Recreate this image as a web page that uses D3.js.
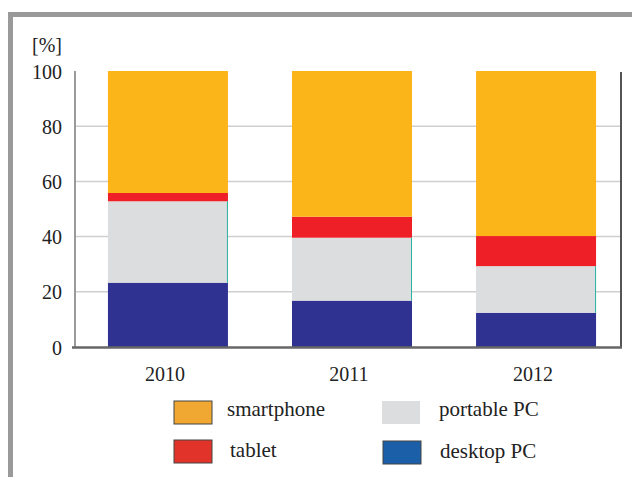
<!DOCTYPE html>
<meta charset="utf-8">
<title>Device share</title>
<script src="https://d3js.org/d3.v7.min.js"></script>
<body style="margin:0; background:#fff;">
<div id="chart"></div>
</body>
<script>
years = ["2010", "2011", "2012"]
desktop = [23.3, 16.8, 12.4]
portable = [29.5, 22.8, 16.9]
tablet = [3.0, 7.6, 10.9]
smartphone = [44.2, 52.8, 59.8]
keys = ["desktop", "portable", "tablet", "smartphone"]
labels = {smartphone: "smartphone", portable: "portable PC", tablet: "tablet", desktop: "desktop PC"}
barColor = {smartphone: "#fbb519", tablet: "#ee1f26", portable: "#dcddde", desktop: "#303292"}
swatchColor = {smartphone: "#f0a832", tablet: "#e2332a", portable: "#dcddde", desktop: "#1c5fa9"}
yTicks = [0, 20, 40, 60, 80, 100]

width = 632
height = 477
font = "'Liberation Serif', 'Times New Roman', serif"

table = years.map((y, i) => ({year: y, desktop: desktop[i], portable: portable[i], tablet: tablet[i], smartphone: smartphone[i]}))
series = d3.stack().keys(keys)(table)

x = d3.scaleBand().domain(years).range([75, 629]).paddingInner(0.348).paddingOuter(0.179)
y = d3.scaleLinear().domain([0, 100]).range([347, 71])

svg = d3.select("#chart").append("svg")
    .attr("width", width).attr("height", height)
    .style("font-family", font)

// frame
svg.append("path")
    .attr("d", `M10.5,${height} V14.5 H${width}`)
    .attr("fill", "none").attr("stroke", "#9a9a9a").attr("stroke-width", 5)

// gridlines
svg.append("g")
  .selectAll("line")
  .data(yTicks.filter(d => d > 0 && d < 100))
  .join("line")
    .attr("x1", 75).attr("x2", 621)
    .attr("y1", d => y(d)).attr("y2", d => y(d))
    .attr("stroke", "#cfcfcf").attr("stroke-width", 1.5)

// bars
svg.append("g")
  .selectAll("g")
  .data(series)
  .join("g")
    .attr("fill", d => barColor[d.key])
  .selectAll("rect")
  .data(d => d.map(v => Object.assign(v, {key: d.key})))
  .join("rect")
    .attr("x", d => x(d.data.year))
    .attr("width", x.bandwidth())
    .attr("y", d => y(d[1]))
    .attr("height", d => y(d[0]) - y(d[1]))

// thin teal edge on portable segments
svg.append("g")
  .selectAll("line")
  .data(series.find(s => s.key == "portable"))
  .join("line")
    .attr("x1", d => x(d.data.year) + x.bandwidth() - 0.5)
    .attr("x2", d => x(d.data.year) + x.bandwidth() - 0.5)
    .attr("y1", d => y(d[1])).attr("y2", d => y(d[0]))
    .attr("stroke", "#2bb3a3").attr("stroke-width", 1)

// axes lines
svg.append("line").attr("x1", 75).attr("x2", 75).attr("y1", 71).attr("y2", 347)
    .attr("stroke", "#9a9a9a").attr("stroke-width", 2)
svg.append("line").attr("x1", 621).attr("x2", 621).attr("y1", 72).attr("y2", 347)
    .attr("stroke", "#555").attr("stroke-width", 2)
svg.append("line").attr("x1", 72).attr("x2", 622).attr("y1", 347.5).attr("y2", 347.5)
    .attr("stroke", "#666").attr("stroke-width", 2.5)

// y tick labels
svg.append("g")
  .selectAll("text")
  .data(yTicks)
  .join("text")
    .attr("x", 62).attr("y", d => y(d))
    .attr("dy", "0.38em")
    .attr("text-anchor", "end")
    .attr("font-size", 20).attr("fill", "#222")
    .text(d => d)

svg.append("text")
    .attr("x", 62).attr("y", 52)
    .attr("text-anchor", "end")
    .attr("font-size", 20).attr("fill", "#222")
    .text("[%]")

// year labels
svg.append("g")
  .selectAll("text")
  .data(years)
  .join("text")
    .attr("x", d => x(d) + x.bandwidth() / 2 - 3)
    .attr("y", 381)
    .attr("text-anchor", "middle")
    .attr("font-size", 20).attr("fill", "#222")
    .text(d => d)

// legend
legendItems = [
  {key: "smartphone", x: 174, y: 401},
  {key: "portable", x: 382, y: 401},
  {key: "tablet", x: 174, y: 440},
  {key: "desktop", x: 383, y: 441}
]
leg = svg.append("g")
  .selectAll("g")
  .data(legendItems)
  .join("g")
    .attr("transform", d => `translate(${d.x},${d.y})`)
leg.append("rect")
    .attr("width", 38).attr("height", 23)
    .attr("fill", d => swatchColor[d.key])
    .attr("stroke", d => d.key == "portable" ? "none" : "#444").attr("stroke-width", 1)
leg.append("text")
    .attr("x", d => d.key == "tablet" ? 56 : d.key == "smartphone" ? 53 : 57)
    .attr("y", d => d.key == "tablet" || d.key == "desktop" ? 17 : 15)
    .attr("font-size", 21).attr("fill", "#222")
    .text(d => labels[d.key])
</script>
